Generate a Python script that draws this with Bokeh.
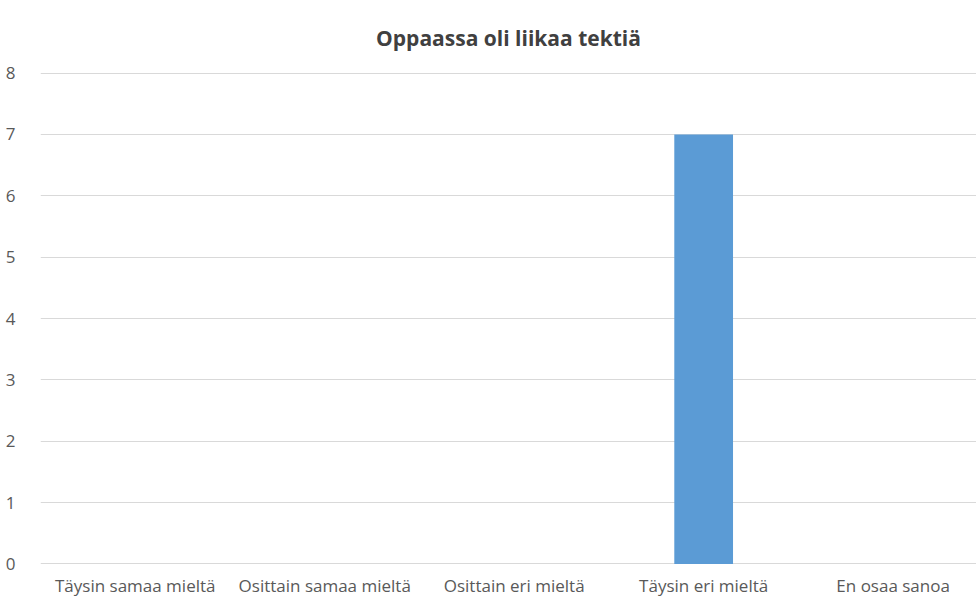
from bokeh.plotting import figure
from bokeh.models import Range1d, FixedTicker, ColumnDataSource
from bokeh.embed import file_html
from bokeh.resources import INLINE

title_text = "Oppaassa oli liikaa tektiä"
categories = ["Täysin samaa mieltä", "Osittain samaa mieltä", "Osittain eri mieltä",
              "Täysin eri mieltä", "En osaa sanoa"]
values = [0, 0, 0, 7, 0]
y_ticks = [0, 1, 2, 3, 4, 5, 6, 7, 8]

FONT = "Open Sans"
xpos = [i + 0.5 for i in range(len(categories))]
src = ColumnDataSource(dict(x=xpos, top=values, cat=categories))

p = figure(width=976, height=600, output_backend="svg", toolbar_location=None,
           x_range=Range1d(0, 4.94), y_range=Range1d(-0.01, 8.01),
           min_border_left=40, min_border_right=0, min_border_bottom=36, min_border_top=0)

p.vbar(x="x", top="top", width=0.31, source=src, color="#5b9bd5", line_color=None)

p.title.text = title_text
p.title.align = "center"
p.title.text_font = FONT
p.title.text_font_size = "21px"
p.title.text_font_style = "bold"
p.title.text_color = "#404040"
p.title.offset = -6
p.title.standoff = 42

p.outline_line_color = None
p.background_fill_color = "white"
p.border_fill_color = "white"

p.xaxis.ticker = FixedTicker(ticks=xpos)
p.xaxis.major_label_overrides = {x: c for x, c in zip(xpos, categories)}
p.yaxis.ticker = FixedTicker(ticks=y_ticks)

for ax in (p.xaxis[0], p.yaxis[0]):
    ax.axis_line_color = None
    ax.major_tick_line_color = None
    ax.minor_tick_line_color = None
    ax.major_label_text_font = FONT
    ax.major_label_text_font_size = "17px"
    ax.major_label_text_color = "#595959"

p.yaxis.major_label_standoff = 19
p.xaxis.major_label_standoff = 3

p.xgrid.grid_line_color = None
p.ygrid.grid_line_color = "#d9d9d9"
p.ygrid.grid_line_width = 1

open("out.html", "w").write(file_html(p, INLINE))
